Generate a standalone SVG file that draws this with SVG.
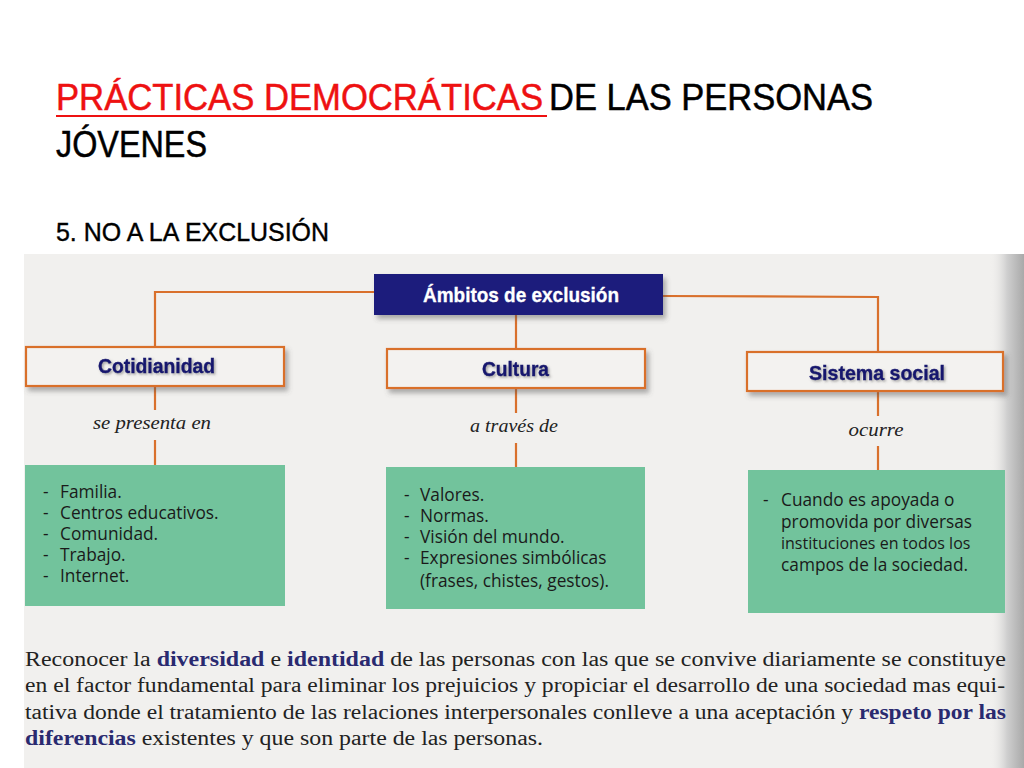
<svg xmlns="http://www.w3.org/2000/svg" width="1024" height="768" viewBox="0 0 1024 768">
<defs>
  <linearGradient id="gutter" x1="0" y1="0" x2="1" y2="0">
    <stop offset="0" stop-color="#efeeec" stop-opacity="0"/>
    <stop offset="0.5" stop-color="#cfcfcf"/>
    <stop offset="1" stop-color="#a9a9a9"/>
  </linearGradient>
  <filter id="shadow" x="-10%" y="-30%" width="125%" height="170%">
    <feDropShadow dx="3" dy="4" stdDeviation="2.5" flood-color="#555" flood-opacity="0.45"/>
  </filter>
  <filter id="tshadow" x="-10%" y="-30%" width="125%" height="170%">
    <feDropShadow dx="1.5" dy="1.5" stdDeviation="1.2" flood-color="#555" flood-opacity="0.5"/>
  </filter>
</defs>
<style>
  .title { font-family: "Liberation Sans", Arial, sans-serif; font-size: 37px; fill: #000; stroke: #000; stroke-width: 0.5; }
  .red { fill: #ee1111; stroke: #ee1111; }
  .sub { font-family: "Liberation Sans", Arial, sans-serif; font-size: 26px; fill: #000; stroke: #000; stroke-width: 0.4; }
  .conn { stroke: #d9702c; stroke-width: 2.2; fill: none; }
  .obox { fill: #f3f2f0; stroke: #d9702c; stroke-width: 2.2; }
  .btxt { font-family: "Liberation Sans", Arial, sans-serif; font-weight: bold; font-size: 21px; fill: #16186e; stroke: #16186e; stroke-width: 0.4; }
  .htxt { font-family: "Liberation Sans", Arial, sans-serif; font-weight: bold; font-size: 21px; fill: #ffffff; stroke: #ffffff; stroke-width: 0.3; }
  .lbl { font-family: "Liberation Serif", "Times New Roman", serif; font-style: italic; font-size: 19px; fill: #222; }
  .gbox { fill: #72c39c; }
  .gtxt { font-family: "Open Sans", "Liberation Sans", sans-serif; font-size: 17.3px; fill: #1a1a1a; }
  .para { font-family: "Liberation Serif", "Times New Roman", serif; font-size: 20px; fill: #222; }
  .em { fill: #2a2a70; font-weight: bold; }
</style>
<rect x="0" y="0" width="1024" height="768" fill="#ffffff"/>
<!-- scanned page area -->
<rect x="24" y="254" width="1000" height="514" fill="#f1f0ee"/>
<rect x="990" y="254" width="34" height="514" fill="url(#gutter)"/>

<!-- title -->
<text class="title red" x="56" y="110" textLength="487" lengthAdjust="spacingAndGlyphs">PRÁCTICAS DEMOCRÁTICAS</text>
<line x1="56" y1="116" x2="547" y2="116" stroke="#ee1111" stroke-width="2"/>
<text class="title" x="549" y="110" textLength="324" lengthAdjust="spacingAndGlyphs">DE LAS PERSONAS</text>
<text class="title" x="56" y="157" textLength="151" lengthAdjust="spacingAndGlyphs">JÓVENES</text>
<text class="sub" x="56" y="241" textLength="273" lengthAdjust="spacingAndGlyphs">5. NO A LA EXCLUSIÓN</text>

<!-- connectors -->
<g id="connectors">
  <polyline class="conn" points="374,292 155,292 155,347"/>
  <polyline class="conn" points="663,296 878,297 878,352"/>
  <line class="conn" x1="516" y1="315" x2="516" y2="349"/>
  <line class="conn" x1="155" y1="386" x2="155" y2="410"/>
  <line class="conn" x1="155" y1="440" x2="155" y2="465"/>
  <line class="conn" x1="516" y1="388" x2="516" y2="413"/>
  <line class="conn" x1="516" y1="443" x2="516" y2="467"/>
  <line class="conn" x1="878" y1="391" x2="878" y2="416"/>
  <line class="conn" x1="878" y1="446" x2="878" y2="470"/>
  <text class="lbl" x="152" y="429" text-anchor="middle" textLength="118" lengthAdjust="spacingAndGlyphs">se presenta en</text>
  <text class="lbl" x="514" y="432" text-anchor="middle" textLength="88" lengthAdjust="spacingAndGlyphs">a través de</text>
  <text class="lbl" x="876" y="436" text-anchor="middle" textLength="55" lengthAdjust="spacingAndGlyphs">ocurre</text>
</g>

<!-- header node -->
<g id="ambitos">
  <rect x="374" y="274" width="289" height="41" fill="#1b1d7c" filter="url(#shadow)"/>
  <text class="htxt" x="423" y="302" textLength="196" lengthAdjust="spacingAndGlyphs">Ámbitos de exclusión</text>
</g>

<g id="cotidianidad">
  <rect class="obox" x="26" y="347" width="258" height="39" filter="url(#shadow)"/>
  <text class="btxt" x="98" y="373" textLength="117" lengthAdjust="spacingAndGlyphs" filter="url(#tshadow)">Cotidianidad</text>
</g>
<g id="cultura">
  <rect class="obox" x="387" y="349" width="258" height="39" filter="url(#shadow)"/>
  <text class="btxt" x="482" y="376" textLength="67" lengthAdjust="spacingAndGlyphs" filter="url(#tshadow)">Cultura</text>
</g>
<g id="sistema">
  <rect class="obox" x="747" y="352" width="256" height="39" filter="url(#shadow)"/>
  <text class="btxt" x="809" y="380" textLength="136" lengthAdjust="spacingAndGlyphs" filter="url(#tshadow)">Sistema social</text>
</g>

<g id="lista-cotidianidad">
  <rect class="gbox" x="25" y="465" width="260" height="141"/>
  <g class="gtxt">
    <text x="43" y="498">-</text><text x="60" y="498">Familia.</text>
    <text x="43" y="519">-</text><text x="60" y="519">Centros educativos.</text>
    <text x="43" y="540">-</text><text x="60" y="540">Comunidad.</text>
    <text x="43" y="561">-</text><text x="60" y="561">Trabajo.</text>
    <text x="43" y="582">-</text><text x="60" y="582">Internet.</text>
  </g>
</g>
<g id="lista-cultura">
  <rect class="gbox" x="386" y="467" width="259" height="142"/>
  <g class="gtxt">
    <text x="404" y="501">-</text><text x="420" y="501">Valores.</text>
    <text x="404" y="522">-</text><text x="420" y="522">Normas.</text>
    <text x="404" y="543">-</text><text x="420" y="543">Visión del mundo.</text>
    <text x="404" y="564">-</text><text x="420" y="564">Expresiones simbólicas</text>
    <text x="420" y="587">(frases, chistes, gestos).</text>
  </g>
</g>
<g id="lista-sistema">
  <rect class="gbox" x="748" y="470" width="257" height="143"/>
  <g class="gtxt">
    <text x="763" y="506">-</text><text x="781" y="506">Cuando es apoyada o</text>
    <text x="781" y="528">promovida por diversas</text>
    <text x="781" y="549" font-size="16">instituciones en todos los</text>
    <text x="781" y="571">campos de la sociedad.</text>
  </g>
</g>

<!-- paragraph -->
<g id="parrafo" class="para">
  <text x="25" y="666" textLength="981" lengthAdjust="spacingAndGlyphs">Reconocer la <tspan class="em">diversidad</tspan> e <tspan class="em">identidad</tspan> de las personas con las que se convive diariamente se constituye</text>
  <text x="25" y="692" textLength="980" lengthAdjust="spacingAndGlyphs">en el factor fundamental para eliminar los prejuicios y propiciar el desarrollo de una sociedad mas equi-</text>
  <text x="25" y="719" textLength="981" lengthAdjust="spacingAndGlyphs">tativa donde el tratamiento de las relaciones interpersonales conlleve a una aceptación y <tspan class="em">respeto por las</tspan></text>
  <text x="25" y="745" textLength="518" lengthAdjust="spacingAndGlyphs"><tspan class="em">diferencias</tspan> existentes y que son parte de las personas.</text>
</g>
</svg>
